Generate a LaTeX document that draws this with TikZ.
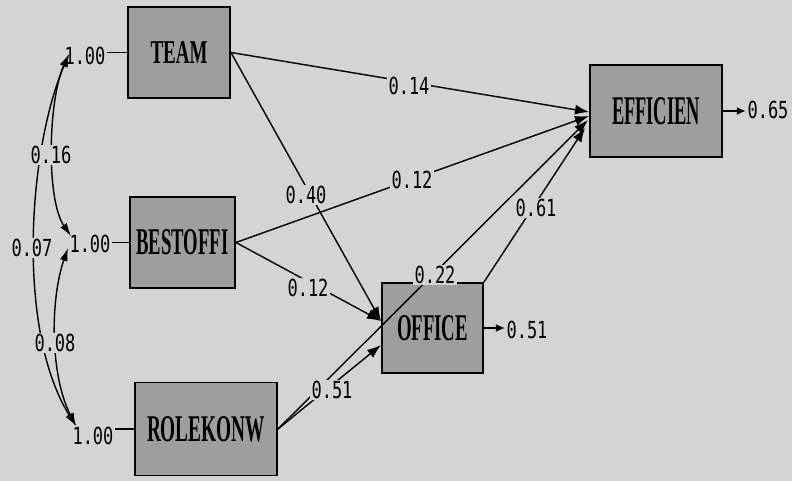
\documentclass[tikz,border=0pt]{standalone}
\usepackage{fontspec}
\usepackage{graphicx}
\setmainfont{Liberation Serif}
\newfontfamily\numfont{DejaVu Sans Mono}
\usetikzlibrary{arrows.meta,calc}
\definecolor{bgc}{gray}{0.83}
\definecolor{boxc}{gray}{0.62}
\newcommand\nm[1]{\scalebox{1}[1.38]{\numfont\fontsize{17pt}{17pt}\selectfont #1}}
\newcommand\bx[3]{\resizebox{#1pt}{#2pt}{\bfseries #3}}
\begin{document}
\begin{tikzpicture}[x=1pt,y=-1pt,
  var/.style={draw=black, line width=1.9pt, fill=boxc, inner sep=0pt},
  pth/.style={line width=1.4pt, -{Latex[length=14pt,width=10pt]}},
  cov/.style={line width=1.4pt, {Latex[length=13pt,width=8pt]}-{Latex[length=13pt,width=8pt]}},
  err/.style={line width=1.4pt, -{Latex[length=9pt,width=8pt]}},
  lab/.style={fill=bgc, inner sep=1.5pt},
  vlab/.style={inner sep=1.5pt}]
\fill[bgc] (0,0) rectangle (792,481);
\useasboundingbox (0,0) rectangle (792,481);

% variables
\node[var, minimum width=102pt, minimum height=91pt] (team) at (179,52.5) {\bx{57}{22}{TEAM}};
\node[var, minimum width=105pt, minimum height=91pt] (bes) at (182.5,242.5) {\bx{92}{25}{BESTOFFI}};
\node[var, minimum width=142pt, minimum height=93pt] (rol) at (206,429) {\bx{118}{25}{ROLEKONW}};
\node[var, minimum width=101pt, minimum height=90pt] (off) at (432.5,328) {\bx{71}{25}{OFFICE}};
\node[var, minimum width=132pt, minimum height=92pt] (eff) at (656,111) {\bx{88}{27}{EFFICIEN}};

% arrow end points
\coordinate (oA) at (381,321);
\coordinate (oB) at (381,345);
\coordinate (eA) at (589,112);
\coordinate (eB) at (589,116);
\coordinate (eC) at (588,120);
\coordinate (eD) at (585,128);

% paths
\draw[pth] (team.east) -- (eA);
\draw[pth] (team.east) -- (oA);
\draw[pth] (bes.east) -- (eB);
\draw[pth] (bes.east) -- (oA);
\draw[pth] (rol.east) -- (oB);
\draw[pth] (rol.east) -- (eC);
\draw[pth] (off.north east) -- (eD);

% variance labels
\node[vlab] (v1) at (85,56) {\nm{1.00}};
\node[vlab] (v2) at (90,244) {\nm{1.00}};
\node[vlab] (v3) at (93,436) {\nm{1.00}};
\draw[line width=1.3pt] (v1.east |- team.west) -- (team.west);
\draw[line width=1.3pt] (v2.east |- bes.west) -- (bes.west);
\draw[line width=1.3pt] (v3.east |- rol.west) -- (rol.west);

% covariance arcs
\coordinate (tA) at (69,54);
\coordinate (bA) at (71,236);
\coordinate (bB) at (68,248);
\coordinate (rA) at (76,426);
\draw[cov] (tA) .. controls (48,100) and (46,200) .. (bA);
\draw[cov] (tA) .. controls (28,150) and (16,330) .. (rA);
\draw[cov] (bB) .. controls (50,300) and (50,375) .. (rA);
\node[lab] (c16) at (51,155) {\nm{0.16}};
\node[lab] (c07) at (32,248) {\nm{0.07}};
\node[lab] (c08) at (55,343) {\nm{0.08}};

% path labels
\node[lab] (l14) at (409,86) {\nm{0.14}};
\node[lab] (l12a) at (412,180) {\nm{0.12}};
\node[lab] (l40) at (306,195) {\nm{0.40}};
\node[lab] (l12b) at (308,288) {\nm{0.12}};
\node[lab] (l22) at (435,275) {\nm{0.22}};
\node[lab] (l61) at (536,208) {\nm{0.61}};
\node[lab] (l51) at (332,390) {\nm{0.51}};

% error terms
\node[vlab] (e1) at (527,330) {\nm{0.51}};
\node[vlab] (e2) at (768,110) {\nm{0.65}};
\draw[err] (off.east) -- (e1.west |- off.east);
\draw[err] (eff.east) -- (e2.west |- eff.east);
\end{tikzpicture}
\end{document}
